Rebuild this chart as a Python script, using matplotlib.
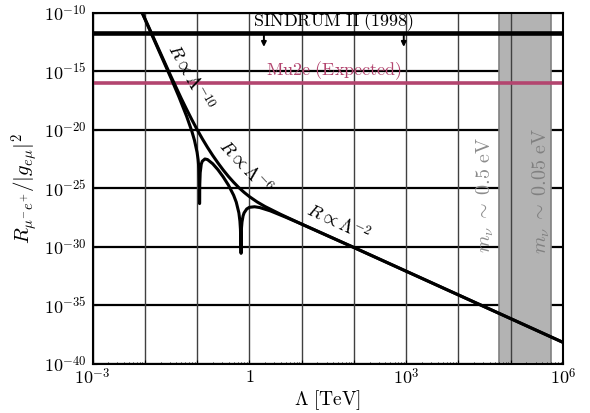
import matplotlib
matplotlib.use("Agg")
import matplotlib.pyplot as plt
import numpy as np

plt.rcParams['mathtext.fontset'] = 'cm'
plt.rcParams['font.family'] = 'DejaVu Serif'

# log10(Lambda / TeV) and log10(R)
env_logL = [-2.2, -1.5, -1.3, -1.2, -1.1, -1.0, -0.9, -0.8, -0.7, -0.6, -0.5,
            -0.4, -0.3, -0.2, -0.1, 0.0, 0.15, 0.3, 0.6, 1.0, 2.0, 6.0]
env_logR = [-8.50, -15.43, -17.34, -18.25, -19.13, -19.97, -20.76, -21.50, -22.19,
            -22.83, -23.43, -23.98, -24.48, -24.94, -25.34, -25.70, -26.16, -26.55,
            -27.22, -28.05, -30.05, -38.15]

dip_logL = [-2.2, -1.5, -1.35, -1.2, -1.1, -1.05, -1.0, -0.98, -0.965, -0.955, -0.952,
            -0.948, -0.94, -0.92, -0.9, -0.85, -0.8, -0.7, -0.6, -0.5, -0.4, -0.3,
            -0.25, -0.2, -0.18, -0.17, -0.158, -0.15, -0.14, -0.12, -0.1, -0.05,
            0.0, 0.1, 0.2, 0.4, 0.7, 1.0, 2.0, 6.0]
dip_logR = [-8.50, -15.57, -17.15, -18.84, -20.12, -20.89, -21.91, -22.54, -23.30, -24.52,
            -26.30, -24.66, -23.66, -22.94, -22.68, -22.49, -22.54, -22.90, -23.41,
            -24.02, -24.72, -25.59, -26.18, -27.09, -27.80, -28.49, -30.55, -28.37,
            -27.86, -27.35, -27.09, -26.76, -26.62, -26.57, -26.64, -26.92, -27.47,
            -28.05, -30.05, -38.15]

# experimental limits
sindrum_limit = 1.7e-12
sindrum_arrow_x = [1.9, 900.0]
sindrum_arrow_end = 1.2e-13
mu2e_limit = 1e-16

# neutrino mass band (Lambda in TeV)
band_lo = 10**4.77
band_hi = 10**5.78

mu2e_color = '#B3456F'

fig = plt.figure(figsize=(5.9, 4.13), dpi=100)
ax = fig.add_axes([0.1568, 0.1186, 0.7974, 0.8506])
ax.set_xscale('log')
ax.set_yscale('log')
ax.set_xlim(1e-3, 1e6)
ax.set_ylim(1e-40, 1e-10)

# grid: vertical lines every decade drawn over the band, horizontal lines under it
xt = 10.0**np.arange(-3, 7)
xl = ['' for _ in xt]
xl[0], xl[3], xl[6], xl[9] = r'$10^{-3}$', r'$1$', r'$10^{3}$', r'$10^{6}$'
ax.set_xticks(xt, labels=xl)
ax.xaxis.set_minor_locator(matplotlib.ticker.LogLocator(base=10, subs=np.arange(2, 10), numticks=100))
ax.xaxis.set_minor_formatter(matplotlib.ticker.NullFormatter())
yt = 10.0**np.arange(-40, -9, 5)
ax.set_yticks(yt, labels=[r'$10^{%d}$' % p for p in range(-40, -9, 5)])
ax.yaxis.set_minor_locator(matplotlib.ticker.NullLocator())

ax.grid(True, axis='x', which='major', color='0.25', lw=1.0)
ax.grid(True, axis='y', which='major', color='k', lw=1.6)
ax.xaxis.set_zorder(1.5)
ax.yaxis.set_zorder(0.5)
ax.tick_params(which='both', direction='in', labelsize=13)
ax.tick_params(which='major', length=3, width=0.8)
ax.tick_params(which='minor', length=1.5, width=0.6)
ax.tick_params(axis='y', pad=4)
ax.tick_params(axis='x', pad=3)
for s in ax.spines.values():
    s.set_linewidth(1.5)
    s.set_zorder(4)

ax.axvspan(band_lo, band_hi, facecolor='0.7', edgecolor='0.5', lw=1.2, zorder=1)

ax.axhline(sindrum_limit, color='k', lw=3.3, zorder=3)
ax.axhline(mu2e_limit, color=mu2e_color, lw=2.6, zorder=3)
for xa in sindrum_arrow_x:
    ax.annotate('', xy=(xa, sindrum_arrow_end), xytext=(xa, sindrum_limit),
                arrowprops=dict(arrowstyle='-|>', color='k', lw=1.4, mutation_scale=7,
                                shrinkA=0, shrinkB=0), zorder=3)

ax.plot(10.0**np.array(env_logL), 10.0**np.array(env_logR), color='k', lw=2.2, zorder=3)
ax.plot(10.0**np.array(dip_logL), 10.0**np.array(dip_logR), color='k', lw=2.2, zorder=3)

ax.text(1.15, 10**-10.78, r'$\mathrm{SINDRUM\ II\ (1998)}$', fontsize=13,
        ha='left', va='center', zorder=5)
ax.text(2.1, 10**-14.97, r'$\mathrm{Mu2e\ (Expected)}$', fontsize=13,
        color=mu2e_color, ha='left', va='center', zorder=5)

ax.text(0.075, 10**-15.5, r'$R\propto\Lambda^{-10}$', fontsize=13.5, rotation=-61,
        rotation_mode='anchor', ha='center', va='center', zorder=5)
ax.text(0.82, 10**-23.2, r'$R\propto\Lambda^{-6}$', fontsize=13.5, rotation=-47,
        rotation_mode='anchor', ha='center', va='center', zorder=5)
ax.text(50.0, 10**-27.9, r'$R\propto\Lambda^{-2}$', fontsize=13.5, rotation=-25,
        rotation_mode='anchor', ha='center', va='center', zorder=5)

ax.text(10**4.51, 10**-25.6, r'$m_\nu\;\sim\;0.5\ \mathrm{eV}$', fontsize=14.5, rotation=90,
        color='0.55', ha='center', va='center', zorder=5)
ax.text(10**5.59, 10**-25.2, r'$m_\nu\;\sim\;0.05\ \mathrm{eV}$', fontsize=14.5, rotation=90,
        color='0.5', ha='center', va='center', zorder=5)

ax.set_xlabel(r'$\Lambda\ [\mathrm{TeV}]$', fontsize=14, labelpad=0)
ax.set_ylabel(r'$R_{\mu^{-}e^{+}}/|g_{e\mu}|^2$', fontsize=15)
ax.yaxis.set_label_coords(-0.112, 0.5)

fig.savefig('out.png', dpi=100)
